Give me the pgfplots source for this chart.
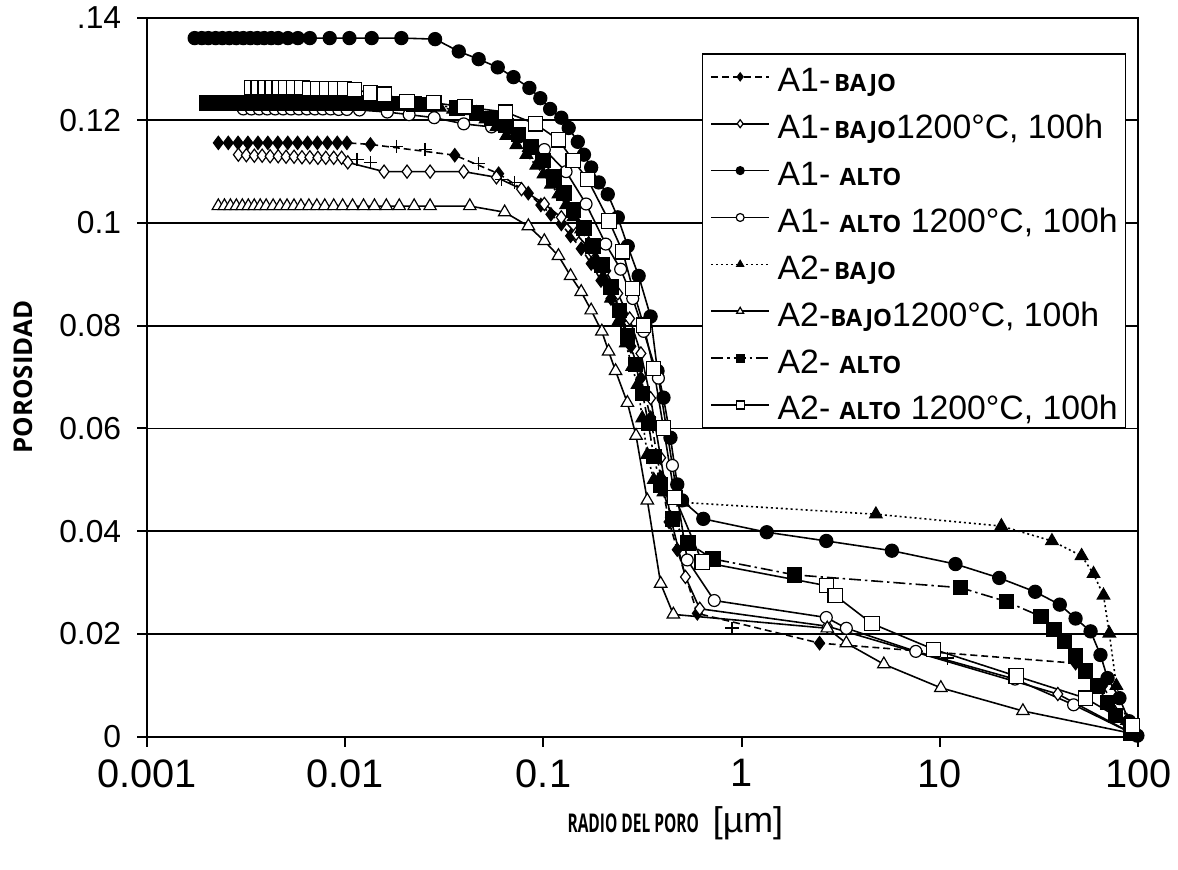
\documentclass[border=0pt]{standalone}
\usepackage{fontspec}
\setmainfont{Liberation Sans}
\newfontfamily\lbfont{Open Sans}
\newfontfamily\axfont{Open Sans}[FakeStretch=0.6]
\usepackage{pgfplots}
\pgfplotsset{compat=1.18}
\newcommand{\lb}[1]{{\lbfont\bfseries\fontsize{12}{12}\selectfont #1}}
\newcommand{\ls}{\rule[-4.8pt]{0pt}{21.3pt}}

\begin{document}
\begin{tikzpicture}
\begin{axis}[
  name=ax, scale only axis, width=499pt, height=362pt,
  xmode=log, xmin=0.001, xmax=100, ymin=0, ymax=0.14,
  xtick={0.001,0.01,0.1,1,10,100},
  xticklabels={0.001,0.01,0.1,1,10,100},
  ytick={0,0.02,0.04,0.06,0.08,0.1,0.12,0.14},
  yticklabels={0,0.02,0.04,0.06,0.08,0.1,0.12,.14},
  xminorticks=false, yminorticks=false,
  tick align=outside, xtick pos=bottom, ytick pos=left,
  major tick length=5pt,
  every tick/.style={black, line width=1pt},
  axis line style={black, line width=1pt},
  ymajorgrids, grid style={black, line width=0.9pt},
  /pgf/number format/assume math mode=true,
  xticklabel style={font=\fontsize{20}{20}\selectfont, yshift=-3pt},
  yticklabel style={font=\fontsize{16}{16}\selectfont, xshift=-4.5pt},
  xlabel={{\axfont\bfseries\fontsize{13}{13}\selectfont RADIO DEL PORO}\hspace{7pt}{\fontsize{18}{18}\selectfont[µm]}},
  ylabel={\lbfont\bfseries\fontsize{13}{13}\selectfont POROSIDAD},
  xlabel style={at={(axis description cs:0.533,0)}, anchor=base, yshift=-48.5pt},
  ylabel style={at={(axis description cs:-0.115,0.5)}, anchor=base},
  legend style={at={(1,1)}, anchor=north east, xshift=-6pt, yshift=-18pt,
    draw=black, line width=0.7pt, fill=white,
    font=\fontsize{17}{17}\selectfont,
    inner xsep=4pt, inner ysep=2.5pt, column sep=4pt, row sep=5.6pt,
    nodes={inner sep=0pt}},
  legend cell align=left,
  legend image code/.code={\draw[mark repeat=2,mark phase=2,#1] plot coordinates {(0pt,0pt) (14.5pt,0pt) (29pt,0pt)};},
  legend image post style={mark size=2pt},
]

% A1- BAJO
\addplot[black, line width=0.8pt, dash pattern=on 3.5pt off 2pt, mark=diamond*, mark size=3.3pt,
  mark options={solid, fill=black, line width=0.6pt}] coordinates {
(0.00229,0.1156)(0.00257,0.1156)(0.00288,0.1156)(0.00323,0.1156)(0.00363,0.1156)(0.00407,0.1156)
(0.00457,0.1156)(0.00513,0.1156)(0.00575,0.1156)(0.00646,0.1156)(0.00724,0.1156)(0.00813,0.1156)
(0.00912,0.1156)(0.0102,0.1156)(0.0134,0.1153)(0.0357,0.1132)(0.0594,0.1096)(0.0838,0.1058)
(0.097,0.1035)(0.109,0.1017)(0.123,0.0998)(0.137,0.0975)(0.155,0.0950)(0.174,0.0921)(0.195,0.0888)
(0.219,0.0853)(0.246,0.0810)(0.276,0.0760)(0.310,0.0698)(0.347,0.0621)(0.390,0.0505)(0.43,0.0418)
(0.473,0.0364)(0.597,0.0240)(2.47,0.0182)(48.3,0.0143)(66,0.0099)(93.5,0.0006)
};
\addlegendentry{\ls A1-\hspace{2pt}\lb{BAJO}}

% A1- BAJO 1200C
\addplot[black, line width=0.8pt, mark=diamond*, mark size=3.3pt,
  mark options={solid, fill=white, line width=0.6pt}] coordinates {
(0.00289,0.1133)(0.00317,0.1132)(0.00348,0.1131)(0.00381,0.1131)(0.00418,0.1130)(0.00459,0.1130)
(0.00503,0.1129)(0.00552,0.1129)(0.00605,0.1128)(0.00663,0.1128)(0.00728,0.1127)(0.00798,0.1127)
(0.00875,0.1127)(0.00959,0.1127)(0.0103,0.1118)(0.0157,0.1100)(0.0205,0.1100)(0.0268,0.1100)
(0.0396,0.1100)(0.0579,0.1089)(0.0775,0.1066)(0.101,0.1037)(0.123,0.1011)(0.146,0.0979)
(0.174,0.0946)(0.206,0.0907)(0.237,0.0863)(0.272,0.0814)(0.310,0.0746)(0.347,0.0659)
(0.390,0.0543)(0.437,0.0427)(0.520,0.0311)(0.614,0.0249)(2.7,0.0215)(39.3,0.0083)(93.5,0.0006)
};
\addlegendentry{\ls A1-\hspace{2pt}\lb{BAJO}1200°C, 100h}

% A1- ALTO
\addplot[black, line width=0.8pt, mark=*, mark size=3.3pt,
  mark options={solid, fill=black, line width=0.6pt}] coordinates {
(0.00174,0.1360)(0.00189,0.1360)(0.00204,0.1360)(0.00222,0.1360)(0.00240,0.1360)(0.00260,0.1360)
(0.00282,0.1360)(0.00306,0.1360)(0.00332,0.1360)(0.00360,0.1360)(0.00390,0.1360)(0.00423,0.1360)
(0.00459,0.1360)(0.00514,0.1360)(0.00577,0.1360)(0.00663,0.1360)(0.00835,0.1360)(0.0105,0.1360)
(0.0136,0.1360)(0.0192,0.1360)(0.0284,0.1358)(0.0374,0.1334)(0.0471,0.1319)(0.0588,0.1303)
(0.0706,0.1284)(0.0849,0.1263)(0.0964,0.1243)(0.108,0.1222)(0.123,0.1205)(0.134,0.1185)
(0.149,0.1158)(0.160,0.1133)(0.174,0.1108)(0.190,0.1079)(0.211,0.1056)(0.237,0.1011)
(0.266,0.0955)(0.302,0.0897)(0.347,0.0818)(0.376,0.0712)(0.403,0.0660)(0.437,0.0582)
(0.473,0.0491)(0.50,0.0460)(0.640,0.0424)(1.337,0.0398)(2.67,0.0381)(5.72,0.0362)
(11.97,0.0336)(19.9,0.0309)(30.2,0.0282)(40.2,0.0257)(48.3,0.0230)(57.5,0.0205)
(64.5,0.0159)(70.0,0.0114)(80.4,0.0075)(90,0.0030)(99,0.0002)
};
\addlegendentry{\ls A1- \lb{ALTO}}

% A1- ALTO 1200C
\addplot[black, line width=0.8pt, mark=*, mark size=3pt,
  mark options={solid, fill=white, line width=0.6pt}] coordinates {
(0.00306,0.1222)(0.00336,0.1222)(0.00368,0.1222)(0.00404,0.1222)(0.00443,0.1222)(0.00486,0.1222)
(0.00533,0.1222)(0.00584,0.1222)(0.00641,0.1222)(0.00703,0.1222)(0.00771,0.1222)(0.00845,0.1222)
(0.00927,0.1221)(0.0102,0.1221)(0.0118,0.1220)(0.0163,0.1216)(0.0210,0.1211)(0.0281,0.1205)
(0.0396,0.1193)(0.0547,0.1187)(0.0756,0.1168)(0.101,0.1143)(0.130,0.1100)(0.164,0.1037)
(0.206,0.0959)(0.245,0.0910)(0.282,0.0853)(0.320,0.0789)(0.380,0.0698)(0.447,0.0528)
(0.531,0.0344)(0.727,0.0265)(2.67,0.0232)(3.37,0.0211)(7.55,0.0166)(23.9,0.0112)
(47.2,0.0062)(93.5,0.0006)
};
\addlegendentry{\ls A1- \lb{ALTO} 1200°C, 100h}

% A2- BAJO
\addplot[black, line width=0.8pt, dash pattern=on 1pt off 1.5pt, mark=triangle*, mark size=3.6pt,
  mark options={solid, fill=black, line width=0.6pt}] coordinates {
(0.00364,0.1232)(0.0041,0.1232)(0.0046,0.1232)(0.0052,0.1232)(0.0058,0.1232)(0.0065,0.1232)
(0.0073,0.1232)(0.0082,0.1232)(0.0092,0.1232)(0.0103,0.1232)(0.0116,0.1232)(0.013,0.1231)
(0.0146,0.1231)(0.0164,0.1230)(0.0184,0.1230)(0.0206,0.1229)(0.0231,0.1228)(0.026,0.1227)
(0.030,0.1225)(0.035,0.1221)(0.040,0.1218)(0.046,0.1214)(0.051,0.1202)(0.0579,0.1187)
(0.065,0.1170)(0.073,0.1152)(0.082,0.1133)(0.092,0.1112)(0.100,0.1095)(0.109,0.1075)
(0.119,0.1056)(0.130,0.1035)(0.142,0.1012)(0.155,0.0988)(0.169,0.0960)(0.184,0.0930)
(0.200,0.0895)(0.219,0.0853)(0.240,0.0810)(0.260,0.0766)(0.280,0.0720)(0.298,0.0685)
(0.315,0.0620)(0.334,0.0549)(0.360,0.0500)(0.403,0.0476)(0.506,0.0456)(4.75,0.0433)
(20.4,0.0410)(36.7,0.0381)(51.8,0.0352)(59.5,0.0317)(66.8,0.0275)(71.5,0.0201)
(77.6,0.0099)(87.7,0.0031)(95,0.0002)
};
\addlegendentry{\ls A2-\hspace{2pt}\lb{BAJO}}

% A2- BAJO 1200C
\addplot[black, line width=0.8pt, mark=triangle*, mark size=3.6pt,
  mark options={solid, fill=white, line width=0.6pt}] coordinates {
(0.00229,0.1033)(0.002459,0.1033)(0.002635,0.1033)(0.002824,0.1033)(0.003027,0.1033)(0.003244,0.1033)
(0.003476,0.1033)(0.003725,0.1033)(0.003993,0.1033)(0.004329,0.1033)(0.004692,0.1033)(0.005087,0.1033)
(0.005515,0.1033)(0.005979,0.1033)(0.006556,0.1033)(0.007191,0.1033)(0.007885,0.1033)(0.008749,0.1033)
(0.009706,0.1033)(0.01089,0.1033)(0.01237,0.1033)(0.01404,0.1033)(0.01612,0.1033)(0.01873,0.1033)
(0.02227,0.1033)(0.02679,0.1033)(0.0425,0.1033)(0.0637,0.1021)(0.0839,0.0994)(0.101,0.0965)
(0.119,0.0936)(0.137,0.0897)(0.155,0.0866)(0.174,0.0830)(0.197,0.0789)(0.213,0.0750)
(0.231,0.0712)(0.265,0.0650)(0.293,0.0586)(0.334,0.0460)(0.390,0.0298)(0.452,0.0238)
(2.70,0.0211)(3.37,0.0182)(5.21,0.0141)(10.1,0.0095)(26.2,0.0050)(93.5,0.0006)
};
\addlegendentry{\ls A2-\lb{BAJO}1200°C, 100h}

% A2- ALTO
\addplot[black, line width=0.8pt, dash pattern=on 6pt off 2pt on 1.2pt off 2pt, mark=square*, mark size=3.6pt,
  mark options={solid, fill=black, line width=0.6pt}] coordinates {
(0.002,0.1234)(0.002141,0.1234)(0.002294,0.1234)(0.002459,0.1234)(0.002635,0.1234)(0.002824,0.1234)
(0.003027,0.1234)(0.003244,0.1234)(0.003476,0.1234)(0.003725,0.1234)(0.003993,0.1234)(0.004329,0.1234)
(0.004692,0.1234)(0.005087,0.1234)(0.005515,0.1234)(0.006048,0.1234)(0.006632,0.1234)(0.007275,0.1234)
(0.008071,0.1234)(0.008953,0.1234)(0.009931,0.1234)(0.01114,0.1234)(0.01251,0.1234)(0.0142,0.1234)
(0.01631,0.1233)(0.01895,0.1233)(0.02227,0.1232)(0.02648,0.1231)(0.0366,0.1224)(0.046,0.1215)
(0.055,0.1203)(0.0648,0.1190)(0.0748,0.1172)(0.0867,0.1148)(0.0993,0.1122)(0.113,0.1090)
(0.127,0.1058)(0.142,0.1025)(0.160,0.0990)(0.178,0.0955)(0.197,0.0918)(0.219,0.0875)
(0.242,0.0830)(0.266,0.0780)(0.291,0.0725)(0.316,0.0668)(0.338,0.0610)(0.360,0.0545)
(0.390,0.0490)(0.447,0.0424)(0.536,0.0377)(0.715,0.0346)(1.847,0.0315)(12.7,0.0290)
(21.6,0.0263)(32.3,0.0234)(37.5,0.0209)(42.5,0.0186)(48.3,0.0157)(54.2,0.0128)
(62.3,0.0099)(70.0,0.0066)(76.7,0.0041)(91.5,0.0006)
};
\addlegendentry{\ls A2- \lb{ALTO}}

% A2- ALTO 1200C
\addplot[black, line width=0.8pt, mark=square*, mark size=3.6pt,
  mark options={solid, fill=white, line width=0.6pt}] coordinates {
(0.003357,0.1263)(0.00364,0.1263)(0.003947,0.1263)(0.004279,0.1263)(0.004639,0.1263)(0.005029,0.1263)
(0.005515,0.1263)(0.006048,0.1263)(0.006632,0.1262)(0.007275,0.1262)(0.008071,0.1262)(0.008953,0.1262)
(0.009931,0.1261)(0.01114,0.1260)(0.0134,0.1253)(0.0157,0.1251)(0.0205,0.1237)(0.0280,0.1234)
(0.0401,0.1226)(0.0644,0.1216)(0.0910,0.1193)(0.119,0.1162)(0.141,0.1122)(0.167,0.1085)
(0.214,0.1004)(0.251,0.0944)(0.282,0.0872)(0.320,0.0801)(0.359,0.0717)(0.403,0.0601)
(0.460,0.0466)(0.632,0.0340)(2.67,0.0294)(2.96,0.0275)(4.54,0.0220)(9.29,0.0170)
(24.2,0.0118)(54.2,0.0075)(93.5,0.0021)
};
\addlegendentry{\ls A2- \lb{ALTO} 1200°C, 100h}

% cross marks on the A1 curves
\addplot[only marks, black, mark=+, mark size=3.3pt, mark options={line width=0.8pt}, forget plot] coordinates {
(0.0115,0.1124)(0.0134,0.1118)(0.0181,0.1149)(0.0253,0.1143)(0.047,0.1116)(0.0614,0.1085)
(0.0713,0.1079)(0.893,0.0211)(10.9,0.0153)
};
\end{axis}
\path ([shift={(-74pt,-67pt)}]ax.south west) rectangle ([shift={(16pt,8.5pt)}]ax.north east);
\end{tikzpicture}
\end{document}
